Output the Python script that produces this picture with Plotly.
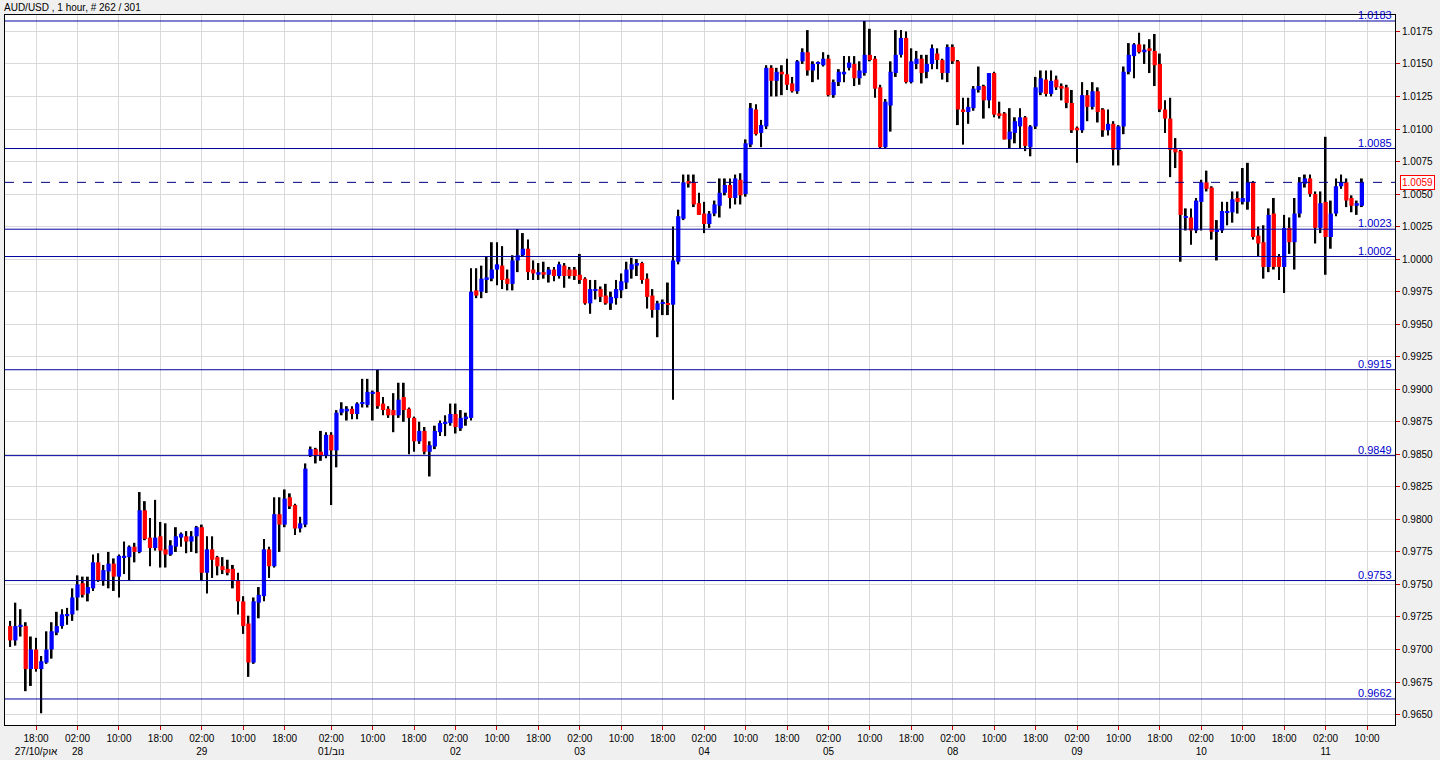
import plotly.graph_objects as go

# ---------------- data (AUD/USD, 1 hour candles) ----------------
opens = [
    0.9718, 0.9707, 0.9718, 0.9718, 0.9685, 0.9700, 0.9685, 0.9690, 0.9700, 0.9713,
    0.9718, 0.9726, 0.9727, 0.9740, 0.9751, 0.9743, 0.9747, 0.9767, 0.9753, 0.9760,
    0.9766, 0.9756, 0.9771, 0.9771, 0.9779, 0.9775, 0.9807, 0.9786, 0.9778, 0.9787,
    0.9777, 0.9773, 0.9779, 0.9786, 0.9787, 0.9783, 0.9787, 0.9794, 0.9759, 0.9777,
    0.9771, 0.9764, 0.9762, 0.9762, 0.9753, 0.9737, 0.9720, 0.9690, 0.9736, 0.9741,
    0.9777, 0.9764, 0.9804, 0.9796, 0.9817, 0.9811, 0.9793, 0.9796, 0.9849, 0.9854,
    0.9852, 0.9849, 0.9865, 0.9853, 0.9882, 0.9883, 0.9885, 0.9881, 0.9889, 0.9888,
    0.9897, 0.9898, 0.9889, 0.9885, 0.9884, 0.9880, 0.9894, 0.9885, 0.9878, 0.9860,
    0.9868, 0.9852, 0.9856, 0.9867, 0.9874, 0.9874, 0.9881, 0.9870, 0.9877, 0.9878,
    0.9976, 0.9975, 0.9984, 0.9985, 0.9992, 0.9995, 0.9985, 0.9981, 0.9999, 1.0003,
    1.0008, 0.9992, 0.9988, 0.9990, 0.9988, 0.9992, 0.9987, 0.9995, 0.9992, 0.9992,
    0.9988, 0.9985, 0.9966, 0.9976, 0.9977, 0.9972, 0.9966, 0.9970, 0.9976, 0.9982,
    0.9992, 0.9995, 0.9997, 0.9985, 0.9972, 0.9961, 0.9966, 0.9966, 0.9965, 0.9998,
    1.0031, 1.0060, 1.0059, 1.0043, 1.0035, 1.0027, 1.0035, 1.0041, 1.0051, 1.0057,
    1.0047, 1.0061, 1.0050, 1.0088, 1.0115, 1.0097, 1.0102, 1.0147, 1.0137, 1.0144,
    1.0142, 1.0135, 1.0129, 1.0152, 1.0159, 1.0145, 1.0150, 1.0149, 1.0154, 1.0126,
    1.0136, 1.0142, 1.0147, 1.0150, 1.0139, 1.0143, 1.0157, 1.0154, 1.0132, 1.0086,
    1.0118, 1.0143, 1.0157, 1.0170, 1.0136, 1.0150, 1.0154, 1.0144, 1.0150, 1.0158,
    1.0153, 1.0143, 1.0163, 1.0152, 1.0115, 1.0113, 1.0116, 1.0130, 1.0133, 1.0122,
    1.0143, 1.0112, 1.0112, 1.0092, 1.0097, 1.0102, 1.0109, 1.0086, 1.0102, 1.0128,
    1.0138, 1.0127, 1.0138, 1.0133, 1.0132, 1.0120, 1.0101, 1.0099, 1.0126, 1.0117,
    1.0129, 1.0115, 1.0099, 1.0104, 1.0084, 1.0102, 1.0144, 1.0156, 1.0165, 1.0159,
    1.0162, 1.0160, 1.0150, 1.0115, 1.0108, 1.0085, 1.0083, 1.0032, 1.0032, 1.0022,
    1.0044, 1.0059, 1.0055, 1.0021, 1.0022, 1.0036, 1.0036, 1.0047, 1.0044, 1.0044,
    1.0059, 1.0018, 1.0013, 0.9994, 1.0035, 1.0002, 0.9994, 1.0024, 1.0013, 1.0035,
    1.0058, 1.0062, 1.0050, 1.0024, 1.0044, 1.0017, 1.0035, 1.0056, 1.0059, 1.0047,
    1.0041, 1.0041,
]

highs = [
    0.9722, 0.9736, 0.9731, 0.9721, 0.9710, 0.9709, 0.9695, 0.9714, 0.9721, 0.9729,
    0.9731, 0.9732, 0.9747, 0.9757, 0.9756, 0.9756, 0.9773, 0.9774, 0.9765, 0.9775,
    0.9770, 0.9773, 0.9783, 0.9780, 0.9782, 0.9821, 0.9814, 0.9801, 0.9815, 0.9798,
    0.9797, 0.9784, 0.9794, 0.9790, 0.9791, 0.9791, 0.9795, 0.9796, 0.9787, 0.9787,
    0.9772, 0.9771, 0.9769, 0.9765, 0.9759, 0.9741, 0.9726, 0.9740, 0.9748, 0.9785,
    0.9779, 0.9817, 0.9817, 0.9823, 0.9820, 0.9812, 0.9802, 0.9843, 0.9856, 0.9855,
    0.9868, 0.9867, 0.9867, 0.9884, 0.9890, 0.9887, 0.9887, 0.9890, 0.9908, 0.9908,
    0.9899, 0.9915, 0.9894, 0.9887, 0.9897, 0.9905, 0.9905, 0.9886, 0.9879, 0.9875,
    0.9871, 0.9860, 0.9872, 0.9876, 0.9880, 0.9889, 0.9889, 0.9884, 0.9882, 0.9993,
    0.9993, 0.9995, 1.0002, 1.0013, 1.0013, 1.0010, 0.9992, 1.0003, 1.0023, 1.0020,
    1.0015, 0.9999, 0.9997, 0.9998, 0.9994, 0.9994, 0.9998, 0.9997, 0.9994, 0.9994,
    1.0004, 0.9986, 0.9984, 0.9984, 0.9979, 0.9981, 0.9975, 0.9984, 0.9989, 0.9998,
    1.0001, 1.0000, 0.9998, 0.9989, 0.9977, 0.9968, 0.9969, 0.9982, 1.0025, 1.0038,
    1.0065, 1.0065, 1.0065, 1.0051, 1.0044, 1.0037, 1.0045, 1.0062, 1.0062, 1.0062,
    1.0065, 1.0066, 1.0092, 1.0120, 1.0119, 1.0107, 1.0149, 1.0149, 1.0147, 1.0149,
    1.0154, 1.0140, 1.0153, 1.0162, 1.0176, 1.0152, 1.0152, 1.0159, 1.0157, 1.0138,
    1.0146, 1.0156, 1.0156, 1.0156, 1.0152, 1.0183, 1.0177, 1.0156, 1.0134, 1.0123,
    1.0152, 1.0176, 1.0176, 1.0175, 1.0162, 1.0160, 1.0157, 1.0157, 1.0165, 1.0162,
    1.0154, 1.0165, 1.0165, 1.0153, 1.0124, 1.0124, 1.0133, 1.0148, 1.0134, 1.0143,
    1.0144, 1.0121, 1.0113, 1.0116, 1.0109, 1.0116, 1.0110, 1.0103, 1.0140, 1.0145,
    1.0145, 1.0145, 1.0141, 1.0135, 1.0134, 1.0130, 1.0102, 1.0136, 1.0130, 1.0136,
    1.0132, 1.0116, 1.0115, 1.0106, 1.0103, 1.0148, 1.0166, 1.0166, 1.0174, 1.0165,
    1.0169, 1.0173, 1.0158, 1.0122, 1.0124, 1.0093, 1.0084, 1.0039, 1.0039, 1.0047,
    1.0061, 1.0068, 1.0056, 1.0030, 1.0044, 1.0044, 1.0052, 1.0052, 1.0070, 1.0074,
    1.0060, 1.0025, 1.0026, 1.0039, 1.0047, 1.0004, 1.0034, 1.0032, 1.0047, 1.0063,
    1.0065, 1.0065, 1.0052, 1.0052, 1.0094, 1.0045, 1.0062, 1.0065, 1.0062, 1.0049,
    1.0045, 1.0062,
]

lows = [
    0.9702, 0.9703, 0.9710, 0.9668, 0.9672, 0.9683, 0.9651, 0.9689, 0.9693, 0.9711,
    0.9716, 0.9719, 0.9722, 0.9730, 0.9740, 0.9737, 0.9745, 0.9752, 0.9749, 0.9747,
    0.9745, 0.9740, 0.9758, 0.9753, 0.9767, 0.9774, 0.9784, 0.9764, 0.9776, 0.9763,
    0.9763, 0.9772, 0.9775, 0.9779, 0.9774, 0.9775, 0.9774, 0.9753, 0.9743, 0.9755,
    0.9757, 0.9758, 0.9757, 0.9747, 0.9727, 0.9712, 0.9679, 0.9689, 0.9724, 0.9737,
    0.9755, 0.9763, 0.9775, 0.9794, 0.9808, 0.9788, 0.9790, 0.9794, 0.9848, 0.9843,
    0.9845, 0.9847, 0.9811, 0.9840, 0.9880, 0.9876, 0.9877, 0.9877, 0.9886, 0.9886,
    0.9876, 0.9885, 0.9880, 0.9878, 0.9867, 0.9878, 0.9875, 0.9850, 0.9852, 0.9858,
    0.9850, 0.9833, 0.9854, 0.9864, 0.9864, 0.9872, 0.9866, 0.9868, 0.9872, 0.9876,
    0.9970, 0.9970, 0.9974, 0.9983, 0.9980, 0.9977, 0.9976, 0.9976, 0.9990, 1.0002,
    0.9984, 0.9984, 0.9984, 0.9985, 0.9982, 0.9983, 0.9985, 0.9978, 0.9985, 0.9984,
    0.9981, 0.9965, 0.9958, 0.9969, 0.9967, 0.9965, 0.9961, 0.9965, 0.9970, 0.9977,
    0.9985, 0.9987, 0.9981, 0.9962, 0.9955, 0.9940, 0.9957, 0.9957, 0.9892, 0.9996,
    1.0030, 1.0055, 1.0040, 1.0034, 1.0020, 1.0024, 1.0033, 1.0032, 1.0049, 1.0039,
    1.0042, 1.0042, 1.0048, 1.0086, 1.0095, 1.0086, 1.0100, 1.0125, 1.0125, 1.0126,
    1.0130, 1.0128, 1.0127, 1.0150, 1.0141, 1.0136, 1.0138, 1.0148, 1.0125, 1.0124,
    1.0133, 1.0136, 1.0145, 1.0133, 1.0134, 1.0141, 1.0152, 1.0124, 1.0085, 1.0085,
    1.0098, 1.0140, 1.0155, 1.0135, 1.0135, 1.0146, 1.0135, 1.0139, 1.0146, 1.0146,
    1.0138, 1.0136, 1.0150, 1.0103, 1.0088, 1.0104, 1.0114, 1.0128, 1.0108, 1.0116,
    1.0109, 1.0108, 1.0092, 1.0085, 1.0089, 1.0085, 1.0083, 1.0079, 1.0100, 1.0126,
    1.0125, 1.0125, 1.0130, 1.0122, 1.0116, 1.0097, 1.0074, 1.0097, 1.0106, 1.0115,
    1.0105, 1.0094, 1.0095, 1.0072, 1.0072, 1.0096, 1.0142, 1.0139, 1.0158, 1.0150,
    1.0143, 1.0133, 1.0113, 1.0097, 1.0063, 1.0070, 0.9998, 1.0022, 1.0011, 1.0020,
    1.0022, 1.0052, 1.0015, 0.9999, 1.0020, 1.0026, 1.0028, 1.0035, 1.0042, 1.0038,
    1.0015, 1.0002, 0.9985, 0.9990, 0.9992, 0.9984, 0.9974, 1.0004, 0.9992, 1.0032,
    1.0055, 1.0048, 1.0012, 1.0020, 0.9988, 1.0008, 1.0033, 1.0054, 1.0040, 1.0036,
    1.0034, 1.0040,
]

closes = [
    0.9707, 0.9718, 0.9719, 0.9685, 0.9700, 0.9685, 0.9691, 0.9700, 0.9714, 0.9718,
    0.9727, 0.9727, 0.9740, 0.9750, 0.9742, 0.9748, 0.9767, 0.9753, 0.9761, 0.9766,
    0.9756, 0.9772, 0.9772, 0.9779, 0.9775, 0.9807, 0.9785, 0.9778, 0.9786, 0.9776,
    0.9773, 0.9780, 0.9787, 0.9789, 0.9783, 0.9787, 0.9794, 0.9759, 0.9777, 0.9769,
    0.9764, 0.9761, 0.9759, 0.9753, 0.9737, 0.9718, 0.9690, 0.9737, 0.9742, 0.9777,
    0.9764, 0.9804, 0.9796, 0.9816, 0.9810, 0.9793, 0.9797, 0.9839, 0.9854, 0.9849,
    0.9849, 0.9865, 0.9853, 0.9882, 0.9885, 0.9885, 0.9881, 0.9889, 0.9890, 0.9898,
    0.9898, 0.9887, 0.9884, 0.9880, 0.9880, 0.9892, 0.9884, 0.9878, 0.9860, 0.9868,
    0.9852, 0.9857, 0.9868, 0.9874, 0.9875, 0.9881, 0.9871, 0.9878, 0.9879, 0.9975,
    0.9972, 0.9985, 0.9986, 0.9992, 0.9996, 0.9984, 0.9981, 0.9999, 1.0003, 1.0008,
    0.9990, 0.9989, 0.9990, 0.9988, 0.9992, 0.9987, 0.9996, 0.9987, 0.9987, 0.9987,
    0.9984, 0.9966, 0.9977, 0.9977, 0.9971, 0.9966, 0.9971, 0.9977, 0.9983, 0.9992,
    0.9996, 0.9997, 0.9984, 0.9971, 0.9961, 0.9966, 0.9966, 0.9965, 0.9999, 1.0033,
    1.0059, 1.0058, 1.0042, 1.0034, 1.0027, 1.0035, 1.0042, 1.0051, 1.0057, 1.0047,
    1.0062, 1.0049, 1.0089, 1.0116, 1.0096, 1.0103, 1.0147, 1.0137, 1.0144, 1.0142,
    1.0134, 1.0129, 1.0152, 1.0159, 1.0145, 1.0150, 1.0151, 1.0154, 1.0126, 1.0136,
    1.0144, 1.0144, 1.0151, 1.0139, 1.0145, 1.0157, 1.0153, 1.0131, 1.0086, 1.0121,
    1.0144, 1.0157, 1.0170, 1.0136, 1.0152, 1.0154, 1.0143, 1.0150, 1.0162, 1.0153,
    1.0143, 1.0163, 1.0152, 1.0115, 1.0113, 1.0117, 1.0131, 1.0133, 1.0122, 1.0143,
    1.0111, 1.0110, 1.0092, 1.0098, 1.0106, 1.0109, 1.0087, 1.0102, 1.0132, 1.0139,
    1.0127, 1.0137, 1.0132, 1.0131, 1.0120, 1.0099, 1.0099, 1.0126, 1.0117, 1.0129,
    1.0113, 1.0099, 1.0104, 1.0084, 1.0102, 1.0144, 1.0157, 1.0165, 1.0159, 1.0161,
    1.0160, 1.0149, 1.0115, 1.0108, 1.0084, 1.0082, 1.0034, 1.0033, 1.0022, 1.0045,
    1.0059, 1.0054, 1.0021, 1.0022, 1.0037, 1.0036, 1.0046, 1.0044, 1.0047, 1.0059,
    1.0017, 1.0012, 0.9994, 1.0034, 0.9994, 0.9994, 1.0024, 1.0013, 1.0035, 1.0059,
    1.0062, 1.0050, 1.0024, 1.0043, 1.0017, 1.0035, 1.0056, 1.0059, 1.0045, 1.0041,
    1.0043, 1.0059,
]

levels = [1.0183, 1.0085, 1.0023, 1.0002, 0.9915, 0.9849, 0.9753, 0.9662]
last_price = 1.0059

tick_idx = [5, 13, 21, 29, 37, 45, 53, 62, 70, 78, 86, 94, 102, 110, 118, 126, 134,
            142, 150, 158, 166, 174, 182, 190, 198, 206, 214, 222, 230, 238, 246, 254, 262]
tick_time = ["18:00", "02:00", "10:00"] * 11
tick_date = {5: "27/10/אוק", 13: "28", 37: "29", 62: "01/נוב", 86: "02", 110: "03",
             134: "04", 158: "05", 182: "08", 206: "09", 230: "10", 254: "11"}

y_ticks = [0.9650 + 0.0025 * k for k in range(22)]

title_text = "AUD/USD , 1 hour, # 262 / 301"

# ---------------- figure ----------------
FONT = "Liberation Sans, Arial, sans-serif"
n = len(closes)
idx = list(range(n))
min_body = 0.00009
wick_len = [h - l for h, l in zip(highs, lows)]
body_len = [max(abs(c - o), min_body) for o, c in zip(opens, closes)]
body_lo = [min(o, c) - (bl - abs(c - o)) / 2 for o, c, bl in zip(opens, closes, body_len)]
body_col = ["#0000ff" if c >= o else "#ff0000" for o, c in zip(opens, closes)]

fig = go.Figure()
fig.add_trace(go.Bar(x=idx, y=wick_len, base=lows, width=0.36,
                     marker=dict(color="#000000", line=dict(width=0)),
                     hoverinfo="skip"))
fig.add_trace(go.Bar(x=idx, y=body_len, base=body_lo, width=0.82,
                     marker=dict(color=body_col, line=dict(width=0)),
                     customdata=list(zip(opens, highs, lows, closes)),
                     hovertemplate="O %{customdata[0]:.4f}<br>H %{customdata[1]:.4f}"
                                   "<br>L %{customdata[2]:.4f}<br>C %{customdata[3]:.4f}<extra></extra>"))

shapes = []
annotations = []
for lv in levels:
    shapes.append(dict(type="line", xref="paper", x0=0, x1=1, yref="y", y0=lv, y1=lv,
                       line=dict(color="#0000a0", width=1), layer="above"))
    annotations.append(dict(text=f"{lv:.4f}", xref="paper", x=1, xanchor="right", xshift=-1,
                            yref="y", y=lv, yanchor="bottom", yshift=-2, showarrow=False,
                            font=dict(family=FONT, size=11, color="#0000cc")))
shapes.append(dict(type="line", xref="paper", x0=0, x1=1, yref="y", y0=last_price, y1=last_price,
                   line=dict(color="#000080", width=1, dash="dash"), layer="above"))
annotations.append(dict(text=f"{last_price:.4f}", xref="paper", x=1, xanchor="left", xshift=5,
                        yref="y", y=last_price, yanchor="middle", showarrow=False,
                        font=dict(family=FONT, size=10, color="#ff0000"),
                        bgcolor="#ffffff", bordercolor="#ff0000", borderwidth=1, borderpad=1))
annotations.append(dict(text=title_text, xref="paper", x=0, xanchor="left", xshift=-3,
                        yref="paper", y=1, yanchor="bottom", yshift=0, showarrow=False,
                        font=dict(family=FONT, size=10, color="#000000")))

tick_text = []
for k, t in zip(tick_idx, tick_time):
    tick_text.append(t + ("<br>" + tick_date[k] if k in tick_date else "<br> "))

fig.update_layout(
    width=1440, height=760,
    margin=dict(l=5, r=45, t=15, b=35),
    paper_bgcolor="#f0f0f0", plot_bgcolor="#ffffff",
    barmode="overlay", showlegend=False,
    shapes=shapes, annotations=annotations,
    font=dict(family=FONT, size=10, color="#000000"),
    xaxis=dict(range=[-1, 267.4], tickmode="array", tickvals=tick_idx, ticktext=tick_text,
               ticks="outside", ticklen=4, tickcolor="#cc0000", tickwidth=1,
               showgrid=True, gridcolor="#d9d9d9", gridwidth=1, zeroline=False,
               showline=True, linecolor="#000000", linewidth=1, mirror=True,
               automargin=False,
               tickfont=dict(family=FONT, size=10, color="#000000")),
    yaxis=dict(range=[0.9642, 1.01876], side="right", tickmode="array", tickvals=y_ticks,
               ticktext=[f"{v:.4f}" for v in y_ticks],
               ticks="outside", ticklen=4, tickcolor="#cc0000", tickwidth=1,
               showgrid=True, gridcolor="#d9d9d9", gridwidth=1, zeroline=False,
               showline=True, linecolor="#000000", linewidth=1, mirror=True,
               automargin=False,
               tickfont=dict(family=FONT, size=10, color="#000000")),
)

fig.write_html("out.html",
               config={"displayModeBar": False},
               post_script="document.body.style.margin='0';document.body.style.overflow='hidden';")
